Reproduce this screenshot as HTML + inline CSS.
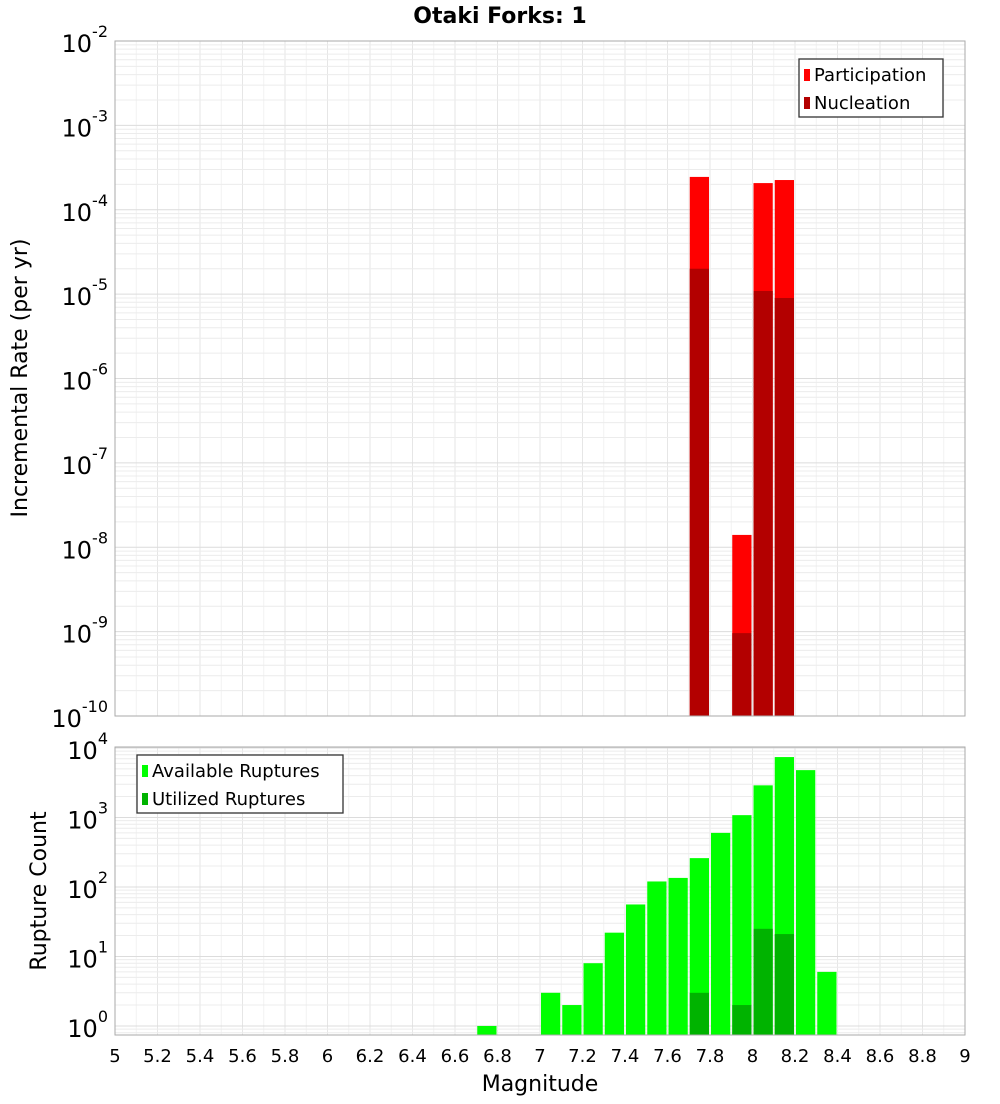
<!DOCTYPE html>
<html><head><meta charset="utf-8"><style>
body{margin:0;background:#fff;font-family:"DejaVu Sans","Liberation Sans",sans-serif;}
svg text{font-family:"DejaVu Sans","Liberation Sans",sans-serif;}
</style></head><body>
<svg id="c" width="1000" height="1100" xmlns="http://www.w3.org/2000/svg"></svg>
<script>
const bins=[6.75,6.85,6.95,7.05,7.15,7.25,7.35,7.45,7.55,7.65,7.75,7.85,7.95,8.05,8.15,8.25,8.35];
const partBins=[7.75,7.95,8.05,8.15];
const participation=[2.45e-4,1.4e-8,2.07e-4,2.25e-4];
const nucleation=[2.0e-5,9.6e-10,1.09e-5,9e-6];
const available=[1,0,0,3,2,8,22,56,120,135,260,600,1080,2900,7400,4800,6];
const utilized=[0,0,0,0,0,0,0,0,0,0,3,0,2,25,21,0,0];
const xTicks=["5","5.2","5.4","5.6","5.8","6","6.2","6.4","6.6","6.8","7","7.2","7.4","7.6","7.8","8","8.2","8.4","8.6","8.8","9"];
const NS="http://www.w3.org/2000/svg";
const svg=document.getElementById('c');
function el(t,a,p){const e=document.createElementNS(NS,t);for(const k in a)e.setAttribute(k,a[k]);(p||svg).appendChild(e);return e;}
const X0=115,X1=965;
const xs=m=>X0+(m-5)/4*(X1-X0);
const topP={y0:41,y1:716,lmin:-10,lmax:-2};
const botP={y0:747,y1:1035,lmin:-0.13,lmax:4.014};
const ys=(p,v)=>p.y1-(Math.log10(v)-p.lmin)/(p.lmax-p.lmin)*(p.y1-p.y0);
function panel(p,d0,d1,name){
  const g=el('g',{});
  
  
  for(let i=0;i<=40;i++){const x=xs(5+i*0.1);el('line',{x1:x,x2:x,y1:p.y0,y2:p.y1,stroke:i%2?'#f2f2f2':'#e6e6e6','stroke-width':1},g);}
  for(let d=d0;d<=d1;d++){for(let k=1;k<10;k++){const v=k*Math.pow(10,d);const y=ys(p,v);if(y<p.y0||y>p.y1)continue;el('line',{x1:X0,x2:X1,y1:y,y2:y,stroke:k==1?'#dcdcdc':'#ececec','stroke-width':1},g);}}
}
panel(topP,-10,-2,'top');panel(botP,-1,4,'bottom');
partBins.forEach((m,i)=>{
  const xa=xs(m-0.05)+1,w=xs(m+0.05)-xs(m-0.05)-2;
  let y=ys(topP,participation[i]);
  let r=el('rect',{x:xa,y:y,width:w,height:topP.y1-y,fill:'#ff0000'});
  
  
  y=ys(topP,nucleation[i]);
  r=el('rect',{x:xa,y:y,width:w,height:topP.y1-y,fill:'#b30000'});
  
  
});
bins.forEach((m,i)=>{
  const xa=xs(m-0.05)+1,w=xs(m+0.05)-xs(m-0.05)-2;
  if(available[i]>0){const y=ys(botP,available[i]);
  const r=el('rect',{x:xa,y:y,width:w,height:botP.y1-y,fill:'#00ff00'});
  
  }
  if(utilized[i]>0){const y=ys(botP,utilized[i]);
  const r=el('rect',{x:xa,y:y,width:w,height:botP.y1-y,fill:'#00b300'});
  
  }
});
[topP,botP].forEach(p=>el('rect',{x:X0,y:p.y0,width:X1-X0,height:p.y1-p.y0,fill:'none',stroke:'#aaa','stroke-width':1}));
function ylab(p,d,name){
  const y=ys(p,Math.pow(10,d));
  const t=el('text',{x:108,y:y+11,'text-anchor':'end','font-size':24,fill:'#000'});
  
  
  t.appendChild(document.createTextNode('10'));
  const s=el('tspan',{dy:-15,'font-size':16},t);s.textContent=String(d);
}
for(let d=-10;d<=-2;d++)ylab(topP,d,'top-y-tick-label');
for(let d=0;d<=4;d++)ylab(botP,d,'bottom-y-tick-label');
xTicks.forEach(s=>{const t=el('text',{x:xs(+s),y:1062,'text-anchor':'middle','font-size':18});
  
  t.textContent=s;});
function txt(s,a,name){const t=el('text',a);t.textContent=s;return t;}
txt('Otaki Forks: 1',{x:500,y:23,'text-anchor':'middle','font-size':22,'font-weight':'bold'},'chart-title');
txt('Magnitude',{x:540,y:1091,'text-anchor':'middle','font-size':22},'x-axis-title');
txt('Incremental Rate (per yr)',{x:0,y:0,transform:'translate(27,378) rotate(-90)','text-anchor':'middle','font-size':22},'top-y-axis-title');
txt('Rupture Count',{x:0,y:0,transform:'translate(46,891) rotate(-90)','text-anchor':'middle','font-size':22},'bottom-y-axis-title');
function legend(x,y,w,items,name){
  const g=el('g',{});
  el('rect',{x:x,y:y,width:w,height:58,fill:'#fff',stroke:'#333','stroke-width':1.3},g);
  items.forEach((it,i)=>{el('rect',{x:x+5,y:y+10+i*28,width:6,height:12,fill:it[1]},g);
    const t=el('text',{x:x+15,y:y+22+i*28,'font-size':18},g);t.textContent=it[0];});
}
legend(799,59,144,[['Participation','#ff0000'],['Nucleation','#b30000']],'top-legend');
legend(137,755,206,[['Available Ruptures','#00ff00'],['Utilized Ruptures','#00b300']],'bottom-legend');
</script>
</body></html>
